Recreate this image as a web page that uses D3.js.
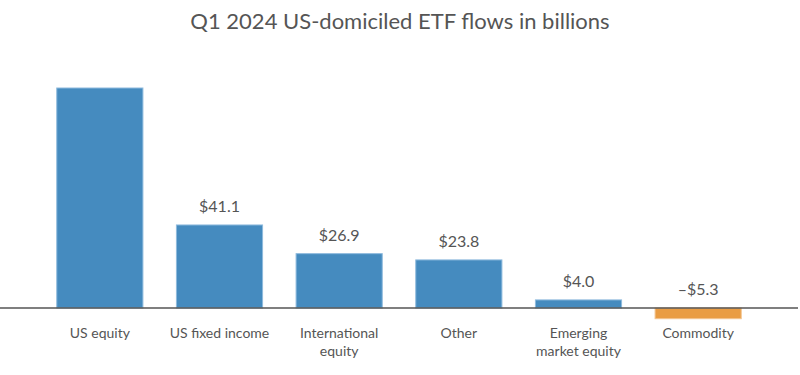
<!DOCTYPE html>
<html>
<head>
<meta charset="utf-8">
<script src="https://cdn.jsdelivr.net/npm/d3@7"></script>
<style>
  body { margin: 0; background: #fff; }
  svg text { font-family: Lato, "Open Sans", sans-serif; fill: #555; }
</style>
</head>
<body>
<svg id="chart" width="800" height="375"></svg>
<script>
const categories = ['US equity', 'US fixed income', 'International equity', 'Other', 'Emerging market equity', 'Commodity']
const labelLines = [['US equity'], ['US fixed income'], ['International', 'equity'], ['Other'], ['Emerging', 'market equity'], ['Commodity']]
const flows = [108.9, 41.1, 26.9, 23.8, 4.0, -5.3]
const showLabel = [false, true, true, true, true, true]

const width = 800, height = 375
const svg = d3.select('#chart')

const rows = categories.map((c, i) => ({ cat: c, value: flows[i], lines: labelLines[i], show: showLabel[i] }))

const x = d3.scaleBand()
    .domain(categories)
    .range([40, 758])
    .paddingInner(0.28)
    .paddingOuter(0.14)

const y = d3.scaleLinear()
    .domain([-5.3, 108.9])
    .range([318.7, 88])

svg.append('text')
    .attr('x', width / 2)
    .attr('y', 29)
    .attr('text-anchor', 'middle')
    .style('font-size', '22px')
    .text('Q1 2024 US-domiciled ETF flows in billions')

svg.selectAll('rect.bar')
    .data(rows)
    .enter()
    .append('rect')
    .attr('class', 'bar')
    .attr('x', d => x(d.cat))
    .attr('width', x.bandwidth())
    .attr('y', d => y(Math.max(d.value, 0)))
    .attr('height', d => Math.abs(y(d.value) - y(0)))
    .attr('fill', d => d.value < 0 ? '#e99c43' : '#458bbf')
    .attr('stroke', d => d.value < 0 ? '#f3c48f' : '#8ebadd')
    .attr('stroke-width', 1)

// baseline
svg.append('line')
    .attr('x1', 0)
    .attr('x2', 798)
    .attr('y1', y(0))
    .attr('y2', y(0))
    .attr('stroke', '#555')
    .attr('stroke-width', 1.5)

// value labels
svg.selectAll('text.value')
    .data(rows.filter(d => d.show))
    .enter()
    .append('text')
    .attr('class', 'value')
    .attr('x', d => x(d.cat) + x.bandwidth() / 2)
    .attr('y', d => y(Math.max(d.value, 0)) - 13)
    .attr('text-anchor', 'middle')
    .style('font-size', '16px')
    .text(d => (d.value < 0 ? '\u2013$' : '$') + Math.abs(d.value).toFixed(1))

// category labels
const cats = svg.selectAll('text.cat')
    .data(rows)
    .enter()
    .append('text')
    .attr('class', 'cat')
    .attr('text-anchor', 'middle')
    .style('font-size', '14px')

cats.selectAll('tspan')
    .data(d => d.lines.map(t => ({ t, cat: d.cat })))
    .enter()
    .append('tspan')
    .attr('x', d => x(d.cat) + x.bandwidth() / 2)
    .attr('y', (d, j) => 338 + j * 18)
    .text(d => d.t)
</script>
</body>
</html>
